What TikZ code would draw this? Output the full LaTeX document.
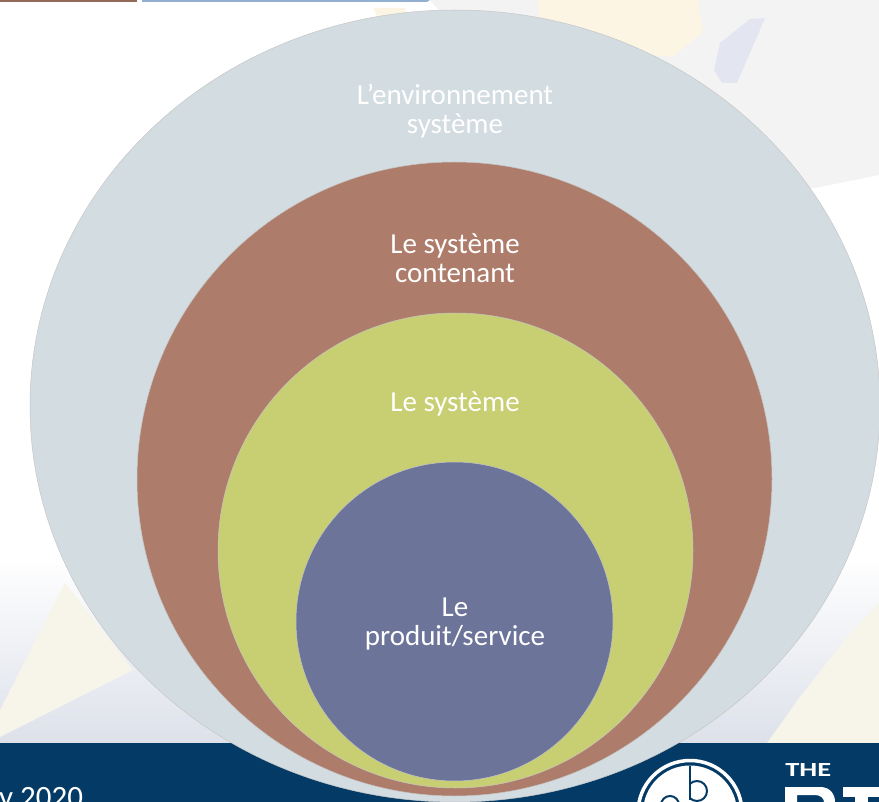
\documentclass[tikz,border=0pt]{standalone}
\usepackage{fontspec}
\setmainfont{Carlito}
\definecolor{envc}{HTML}{D3DCE1}
\definecolor{sysc}{HTML}{AE7C6A}
\definecolor{grnc}{HTML}{C8CE72}
\definecolor{bluc}{HTML}{6C7599}
\definecolor{foot}{HTML}{043B66}
\definecolor{pale}{HTML}{F3F3F4}
\definecolor{creamA}{HTML}{FDF5E3}
\definecolor{creamB}{HTML}{F7F5EA}
\definecolor{lav}{HTML}{E3E6F1}
\definecolor{lowg}{HTML}{DDE1EA}
\definecolor{barb}{HTML}{93AFD0}
\definecolor{barr}{HTML}{94695A}
\tikzset{
  x=1pt,y=-1pt,
  lbl/.style={text=white,font=\fontsize{29}{29}\selectfont,align=center,inner sep=0pt},
  ringline/.style={draw=gray!45,line width=0.5pt}
}
\begin{document}
\begin{tikzpicture}
\useasboundingbox (0,0) rectangle (879,802);
\fill[white] (0,0) rectangle (879,802);
% background
\shade[top color=white,bottom color=lowg] (0,555) rectangle (879,743);
\fill[pale] (430,0) -- (879,0) -- (879,175) -- (815,188) -- (600,200) -- cycle;
\fill[creamA] (373,8) -- (405,8) -- (405,30) -- (385,30) -- cycle;
\fill[creamA] (538,0) -- (698,0) -- (703,32) -- (672,57) -- (540,40) -- cycle;
\fill[lav] (750,19) -- (765,18) -- (737,83) -- (722,83) -- (714,70) -- (720,43) -- cycle;
\fill[creamB] (0,710) -- (65,583) -- (133,670) -- (0,737) -- cycle;
\fill[creamB] (767,743) -- (800,697) -- (847,637) -- (879,603) -- (879,743) -- cycle;
% top bars
\fill[barr] (0,0) rectangle (137,2);
\fill[barb] (142,0) -- (430,0) -- (427,2) -- (142,2) -- cycle;
% footer
\fill[foot] (0,743) rectangle (879,802);
\node[inner sep=0pt,anchor=base west,text=white,font=\fontsize{31}{32}\selectfont] (date) at (-1,807) {y 2020};
\node[circle,draw=white,line width=3.5pt,fill=foot,minimum size=104pt,inner sep=0pt] (logo) at (690,812.5) {};
\node[circle,fill=white,minimum size=94pt,inner sep=0pt] (logoin) at (690,812.5) {};
\draw[foot,line width=2pt] (690,766) -- (690,800);
\draw[foot,line width=2pt] (697,791) circle[radius=10];
\fill[white] (680,778) rectangle (689,804);
\draw[foot,line width=2pt] (670,805) circle[radius=9];
\node[inner sep=0pt,anchor=base west,text=white,xscale=1.42,font=\bfseries\fontsize{20}{20}\selectfont] (the) at (785,776) {THE};
\fill[white] (785,787) -- (820,787) .. controls (830,787) and (835,794) .. (835,802) -- (824,802) .. controls (824,798) and (820,795) .. (815,795) -- (797,795) -- (797,802) -- (785,802) -- cycle;
\fill[white] (843,787) rectangle (879,797);
\fill[white] (855,797) rectangle (868,802);
% circles
\path[fill=envc,ringline] (455,406) ellipse[x radius=425,y radius=396];
\path[fill=sysc,ringline] (454.5,479) ellipse[x radius=317.5,y radius=317];
\path[fill=grnc,ringline] (455.5,550.5) ellipse[x radius=237.5,y radius=237.5];
\path[fill=bluc,ringline] (454.5,621.5) ellipse[x radius=158.5,y radius=159.5];
% labels
\node[lbl] (t1) at (455,111) {L’environnement\\système};
\node[lbl] (t2) at (455,258) {Le système\\contenant};
\node[lbl] (t3) at (455,404) {Le système};
\node[lbl] (t4) at (455,624) {Le\\produit/service};
\end{tikzpicture}
\end{document}
